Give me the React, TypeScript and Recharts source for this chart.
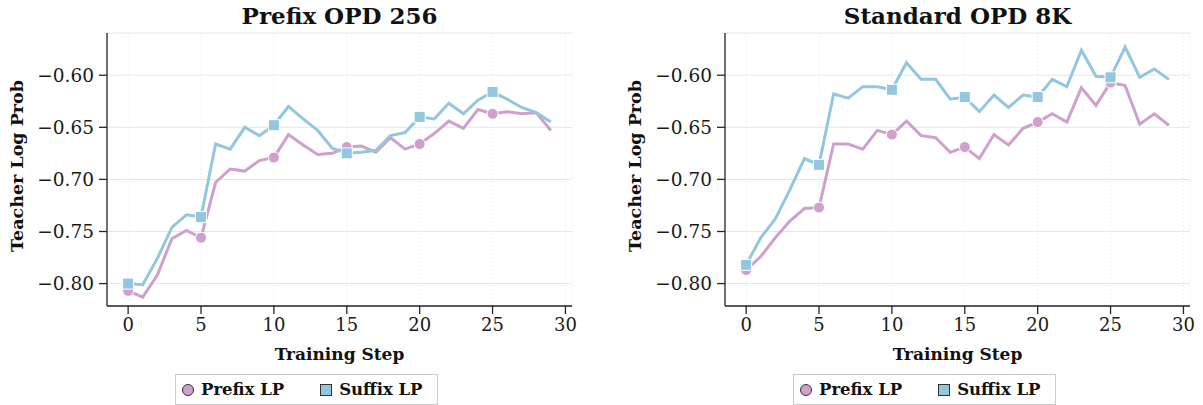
import React from 'react';
import { LineChart, Line, XAxis, YAxis, CartesianGrid } from 'recharts';

const STEPS = Array.from({ length: 30 }, (_, i) => i);
const X_TICKS = [0, 5, 10, 15, 20, 25, 30];
const Y_TICKS = [-0.8, -0.75, -0.7, -0.65, -0.6];

const PREFIX_256 = [
  -0.807, -0.813, -0.792, -0.757, -0.749, -0.756, -0.703, -0.690, -0.692, -0.682,
  -0.679, -0.657, -0.667, -0.676, -0.675, -0.669, -0.668, -0.674, -0.660, -0.671,
  -0.666, -0.656, -0.644, -0.651, -0.633, -0.637, -0.635, -0.637, -0.636, -0.653,
];
const SUFFIX_256 = [
  -0.800, -0.801, -0.776, -0.746, -0.734, -0.736, -0.666, -0.671, -0.650, -0.658,
  -0.648, -0.630, -0.642, -0.653, -0.670, -0.675, -0.674, -0.672, -0.658, -0.655,
  -0.640, -0.642, -0.627, -0.637, -0.624, -0.616, -0.623, -0.631, -0.636, -0.645,
];
const PREFIX_8K = [
  -0.787, -0.774, -0.756, -0.740, -0.728, -0.727, -0.666, -0.666, -0.671, -0.653,
  -0.657, -0.644, -0.658, -0.660, -0.674, -0.669, -0.680, -0.657, -0.667, -0.651,
  -0.645, -0.637, -0.645, -0.612, -0.629, -0.607, -0.610, -0.647, -0.637, -0.648,
];
const SUFFIX_8K = [
  -0.782, -0.756, -0.738, -0.710, -0.680, -0.686, -0.618, -0.622, -0.611, -0.611,
  -0.614, -0.588, -0.604, -0.604, -0.623, -0.621, -0.635, -0.619, -0.631, -0.619,
  -0.621, -0.604, -0.611, -0.576, -0.601, -0.602, -0.573, -0.602, -0.594, -0.604,
];

const PINK = '#d0a0cd';
const BLUE = '#93c6df';
const INK = '#262626';
const FONT = '"DejaVu Serif", serif';

const fmt = (v: number) => (v < 0 ? '\u2212' : '') + Math.abs(v).toFixed(2);

function CircleDot(props: any) {
  const { cx, cy, index } = props;
  if (index % 5 !== 0 || cx == null) return <g key={`c${index}`} />;
  return <circle key={`c${index}`} cx={cx} cy={cy} r={5.5} fill={PINK} stroke="#fff" strokeWidth={1} />;
}

function SquareDot(props: any) {
  const { cx, cy, index } = props;
  if (index % 5 !== 0 || cx == null) return <g key={`s${index}`} />;
  return <rect key={`s${index}`} x={cx - 5.5} y={cy - 5.5} width={11} height={11} fill={BLUE} stroke="#fff" strokeWidth={1} />;
}

function Panel({ left, title, prefix, suffix }: { left: number; title: string; prefix: number[]; suffix: number[] }) {
  const rows = STEPS.map((s, i) => ({ step: s, prefix: prefix[i], suffix: suffix[i] }));
  return (
    <div style={{ position: 'absolute', left, top: 0, width: 585, height: 405 }}>
      <div style={{ position: 'absolute', left: 107, width: 465, top: 1, textAlign: 'center', fontSize: 23, fontWeight: 'bold', lineHeight: '30px' }}>
        {title}
      </div>
      <div style={{ position: 'absolute', left: 17, top: 166, width: 0, height: 0 }}>
        <div style={{ position: 'absolute', left: -120, top: -11, width: 240, textAlign: 'center', fontSize: 17.5, fontWeight: 'bold', lineHeight: '22px', transform: 'rotate(-90deg)' }}>
          Teacher Log Prob
        </div>
      </div>
      <div style={{ position: 'absolute', left: 107, width: 465, top: 343, textAlign: 'center', fontSize: 17, fontWeight: 'bold', lineHeight: '22px' }}>
        Training Step
      </div>
      <div style={{ position: 'absolute', left: 175, top: 374, width: 261, height: 29, border: '1px solid #cccccc', background: '#fff', display: 'flex', alignItems: 'center', fontSize: 16.5, fontWeight: 'bold' }}>
        <span style={{ display: 'inline-block', width: 10, height: 10, borderRadius: '50%', background: PINK, border: '1px solid #333', marginLeft: 6 }} />
        <span style={{ marginLeft: 7 }}>Prefix LP</span>
        <span style={{ display: 'inline-block', width: 10, height: 10, background: BLUE, border: '1px solid #333', marginLeft: 36 }} />
        <span style={{ marginLeft: 7 }}>Suffix LP</span>
      </div>
      <LineChart width={585} height={340} data={rows} margin={{ top: 33, right: 13, bottom: 4, left: 37 }}>
        <CartesianGrid horizontal vertical={false} stroke="#e6e6e6" strokeWidth={1} />
        <CartesianGrid horizontal={false} vertical stroke="#dddddd" strokeWidth={0.8} strokeDasharray="1 3" />
        <XAxis
          type="number"
          dataKey="step"
          domain={[-1.45, 30.45]}
          ticks={X_TICKS}
          allowDataOverflow
          height={30}
          stroke={INK}
          strokeWidth={1.3}
          tickSize={8}
          tickMargin={4}
          tick={{ fontSize: 18, fill: '#1a1a1a', fontFamily: FONT }}
          interval={0}
        />
        <YAxis
          type="number"
          domain={[-0.8215, -0.5595]}
          ticks={Y_TICKS}
          allowDataOverflow
          width={70}
          stroke={INK}
          strokeWidth={1.3}
          tickSize={8}
          tickMargin={5}
          tickFormatter={fmt}
          tick={{ fontSize: 18.5, fill: '#1a1a1a', fontFamily: FONT }}
          interval={0}
        />
        <Line type="linear" dataKey="prefix" stroke={PINK} strokeWidth={3} dot={CircleDot} activeDot={false} isAnimationActive={false} />
        <Line type="linear" dataKey="suffix" stroke={BLUE} strokeWidth={3} dot={SquareDot} activeDot={false} isAnimationActive={false} />
      </LineChart>
    </div>
  );
}

export default function App() {
  return (
    <div style={{ position: 'absolute', left: 0, top: 0, width: 1203, height: 405, overflow: 'hidden', background: '#fff', fontFamily: FONT, color: '#111' }}>
      <Panel left={0} title="Prefix OPD 256" prefix={PREFIX_256} suffix={SUFFIX_256} />
      <Panel left={618} title="Standard OPD 8K" prefix={PREFIX_8K} suffix={SUFFIX_8K} />
    </div>
  );
}
